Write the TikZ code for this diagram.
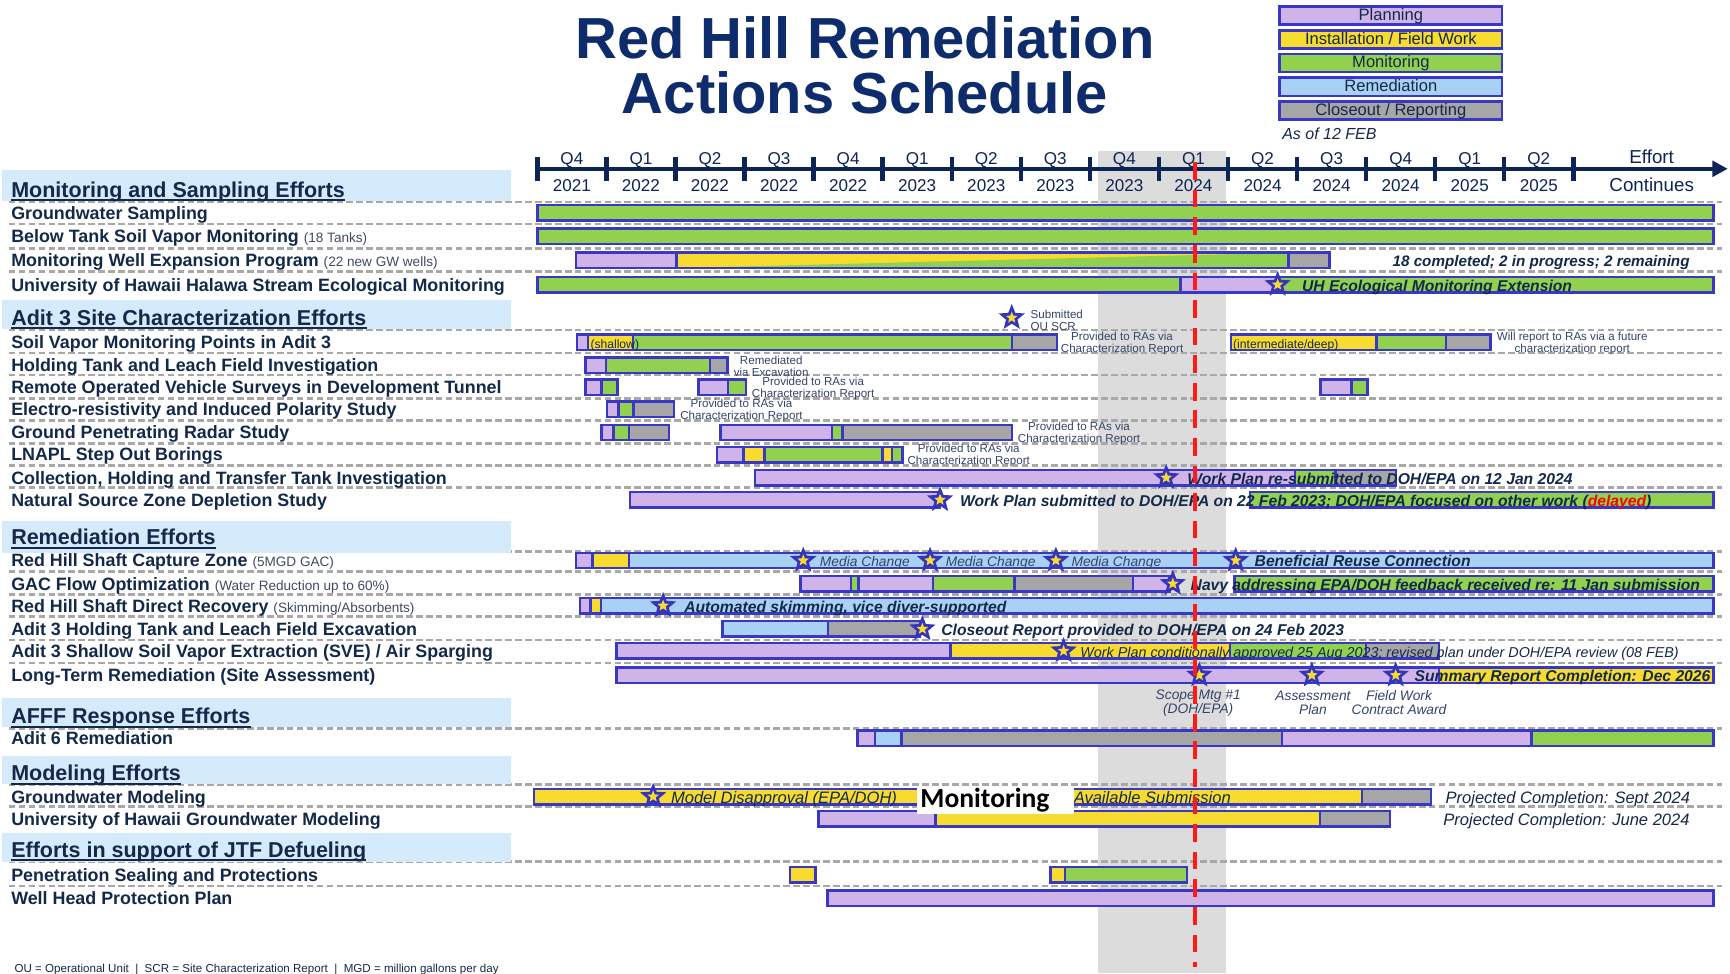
\documentclass[tikz,border=0pt]{standalone}
\usepackage{fontspec}
\setmainfont{Liberation Sans}
\newfontfamily\calib{Carlito}
\usetikzlibrary{shapes.geometric,arrows.meta}
\definecolor{navy}{HTML}{14294A}
\definecolor{titleblue}{HTML}{0E2C6C}
\definecolor{axisnavy}{HTML}{0D2456}
\definecolor{bord}{HTML}{3838C4}
\definecolor{cplan}{HTML}{CFB3E9}
\definecolor{cyel}{HTML}{F7DC2F}
\definecolor{cgrn}{HTML}{92D050}
\definecolor{cblu}{HTML}{A9D1F3}
\definecolor{cgry}{HTML}{A6A6A6}
\definecolor{cband}{HTML}{D5EAFB}
\definecolor{cshade}{HTML}{DCDCDC}
\definecolor{dashg}{HTML}{A8A8A8}
\definecolor{notec}{HTML}{34456A}
\definecolor{subc}{HTML}{3F4A63}
\definecolor{starb}{HTML}{3434BC}
\definecolor{redline}{HTML}{FF1A1A}
\newcommand{\fsz}[1]{\fontsize{#1}{#1}\selectfont}
\newcommand{\seg}[4]{\draw[barl,fill=#4] (#1,{#3-7}) rectangle (#2,{#3+7});}
\newcommand{\mstar}[3]{\node[ostar] (#1) at (#2,#3) {}; \node[istar] (#1i) at (#2,#3) {};}
\newcommand{\dline}[1]{\draw[dl] (8,#1) -- (1561,#1);}
\newcommand{\subl}[1]{{\mdseries\fontsize{12.3}{12.3}\selectfont\color{subc}#1}}
\tikzset{
 barl/.style={draw=bord, line width=2.2pt},
 dl/.style={draw=dashg, line width=2.4pt, dash pattern=on 6pt off 3pt},
 ostar/.style={star, star points=5, star point ratio=2.3, fill=starb, minimum size=25pt, inner sep=0pt},
 istar/.style={star, star points=5, star point ratio=2.3, fill=cyel, minimum size=11pt, inner sep=0pt},
 tx/.style={inner sep=0pt, text height=1.5ex, text depth=0.25ex, text=navy, yshift=-2.5pt},
 lab/.style={tx, anchor=west, font=\bfseries\fsz{16.2}},
 hdr/.style={tx, anchor=west, font=\bfseries\fsz{19.5}, yshift=-1pt},
 note/.style={inner sep=0pt, text=notec, font=\fontsize{10.5}{11}\selectfont, align=center, yshift=-2pt},
 inote/.style={inner sep=0pt, text=notec, font=\itshape\fontsize{12.5}{13}\selectfont, align=center, yshift=-1.5pt},
 msg/.style={tx, anchor=west, font=\bfseries\itshape\fsz{14.2}},
 imsg/.style={tx, anchor=west, font=\itshape\fsz{13}},
 pmsg/.style={tx, anchor=west, font=\itshape\fsz{15}},
 mc/.style={tx, anchor=west, text=notec, font=\itshape\fsz{12.5}},
 ax/.style={tx, font=\fsz{15.5}, text=axisnavy},
 axl/.style={draw=axisnavy, line width=4pt},
 legbox/.style={draw=bord, line width=2.4pt, inner sep=0pt, minimum width=201.6pt, minimum height=16.6pt, text height=1.7ex, text depth=0.1ex, text=navy, font=\fsz{15}},
 uline/.style={draw=navy, line width=1.8pt},
}
\begin{document}
\begin{tikzpicture}[x=1pt,y=-1pt]
\fill[white] (0,0) rectangle (1568,882);
\useasboundingbox (0,0) rectangle (1568,882);
% shaded current period
\fill[cshade] (995,137) rectangle (1111,882);
% dashed row separators
\foreach \yy in {183,203,225,246,299,320,340,361,381,402,422,442,500,518,539,559,580,601,660,711,731,781,803} {\dline{\yy}}
% section bands
\fill[cband] (2,154) rectangle (463,182);
\fill[cband] (2,272) rectangle (463,298);
\fill[cband] (2,472) rectangle (463,501);
\fill[cband] (2,633) rectangle (463,659);
\fill[cband] (2,685) rectangle (463,711);
\fill[cband] (2,755) rectangle (463,781);
% time axis
\draw[axl, -{Triangle[length=14pt,width=14pt]}] (486,153) -- (1566,153);
\foreach \k in {0,...,15} {\draw[axl] ({487+62.6*\k},142) -- ({487+62.6*\k},164);}
\foreach \q/\yr [count=\i from 0] in {Q4/2021,Q1/2022,Q2/2022,Q3/2022,Q4/2022,Q1/2023,Q2/2023,Q3/2023,Q4/2023,Q1/2024,Q2/2024,Q3/2024,Q4/2024,Q1/2025,Q2/2025} {
  \node[ax] (q\i) at ({518.3+62.6*\i},143) {\q};
  \node[ax] (y\i) at ({518.3+62.6*\i},168) {\yr};
}
\node[ax, font=\fsz{17}] (ef) at (1497,142) {Effort};
\node[ax, font=\fsz{17}] (co) at (1497,168) {Continues};
% title
\node[inner sep=0pt, anchor=base, text=titleblue, font=\bfseries\fsz{52.5}] (t1) at (784,53) {Red Hill Remediation};
\node[inner sep=0pt, anchor=base, text=titleblue, font=\bfseries\fsz{52.5}] (t2) at (784,103) {Actions Schedule};
% legend
\node[legbox, fill=cplan] (lg1) at (1260.6,14) {Planning};
\node[legbox, fill=cyel] (lg2) at (1260.6,35.8) {Installation / Field Work};
\node[legbox, fill=cgrn] (lg3) at (1260.6,57.1) {Monitoring};
\node[legbox, fill=cblu] (lg4) at (1260.6,78.8) {Remediation};
\node[legbox, fill=cgry] (lg5) at (1260.6,100.1) {Closeout / Reporting};
\node[tx, anchor=west, font=\itshape\fsz{14.5}] (asof) at (1162,121) {As of 12 FEB};
% section headers
\node[hdr] (h1) at (10,172) {Monitoring and Sampling Efforts};
\node[hdr] (h2) at (10,288) {Adit 3 Site Characterization Efforts};
\node[hdr] (h3) at (10,487) {Remediation Efforts};
\node[hdr] (h4) at (10,649) {AFFF Response Efforts};
\node[hdr] (h5) at (10,701) {Modeling Efforts};
\node[hdr] (h6) at (10,770) {Efforts in support of JTF Defueling};
\foreach \h in {h1,h2,h3,h4,h5,h6} {\draw[uline] ([yshift=-2.8pt]\h.base west) -- ([yshift=-2.8pt]\h.base east);}
% row labels
\node[lab] (l1) at (10,193) {Groundwater Sampling};
\node[lab] (l2) at (10,214) {Below Tank Soil Vapor Monitoring \subl{(18 Tanks)}};
\node[lab] (l3) at (10,236) {Monitoring Well Expansion Program \subl{(22 new GW wells)}};
\node[lab] (l4) at (10,258) {University of Hawaii Halawa Stream Ecological Monitoring};
\node[lab] (l5) at (10,310) {Soil Vapor Monitoring Points in Adit 3};
\node[lab] (l6) at (10,331) {Holding Tank and Leach Field Investigation};
\node[lab] (l7) at (10,351) {Remote Operated Vehicle Surveys in Development Tunnel};
\node[lab] (l8) at (10,371) {Electro-resistivity and Induced Polarity Study};
\node[lab] (l9) at (10,392) {Ground Penetrating Radar Study};
\node[lab] (l10) at (10,412) {LNAPL Step Out Borings};
\node[lab] (l11) at (10,433) {Collection, Holding and Transfer Tank Investigation};
\node[lab] (l12) at (10,453) {Natural Source Zone Depletion Study};
\node[lab] (l13) at (10,508) {Red Hill Shaft Capture Zone \subl{(5MGD GAC)}};
\node[lab] (l14) at (10,529) {GAC Flow Optimization \subl{(Water Reduction up to 60\%)}};
\node[lab] (l15) at (10,549) {Red Hill Shaft Direct Recovery \subl{(Skimming/Absorbents)}};
\node[lab] (l16) at (10,570) {Adit 3 Holding Tank and Leach Field Excavation};
\node[lab] (l17) at (10,590) {Adit 3 Shallow Soil Vapor Extraction (SVE) / Air Sparging};
\node[lab] (l18) at (10,612) {Long-Term Remediation (Site Assessment)};
\node[lab] (l19) at (10,669) {Adit 6 Remediation};
\node[lab] (l20) at (10,722) {Groundwater Modeling};
\node[lab] (l21) at (10,742) {University of Hawaii Groundwater Modeling};
\node[lab] (l22) at (10,793) {Penetration Sealing and Protections};
\node[lab] (l23) at (10,814) {Well Head Protection Plan};
% ---- bars ----
\seg{487}{1553}{193}{cgrn}
\seg{487}{1553}{214}{cgrn}
% MWEP
\seg{522}{613}{236}{cplan}
\fill[cyel] (613,229) rectangle (1168,243);
\fill[cgrn] (613,243) -- (1168,243) -- (1168,229) -- cycle;
\draw[barl] (613,229) rectangle (1168,243);
\seg{1168}{1205}{236}{cgry}
% UH Halawa
\seg{487}{1070}{258}{cgrn}
\seg{1070}{1158}{258}{cplan}
\seg{1158}{1553}{258}{cgrn}
% SVMP
\seg{523}{533}{310}{cplan}
\seg{533}{573.5}{310}{cyel}
\seg{573.5}{917}{310}{cgrn}
\seg{917}{958}{310}{cgry}
\seg{1115.5}{1247.5}{310}{cyel}
\seg{1247.5}{1310.5}{310}{cgrn}
\seg{1310.5}{1351}{310}{cgry}
% Holding tank
\seg{530.5}{549}{331}{cplan}
\seg{549}{643.5}{331}{cgrn}
\seg{643.5}{659.5}{331}{cgry}
% ROV
\seg{530.5}{545}{351}{cplan}
\seg{545}{559.5}{351}{cgrn}
\seg{633}{660}{351}{cplan}
\seg{660}{676}{351}{cgrn}
\seg{1197}{1225}{351}{cplan}
\seg{1225}{1239.5}{351}{cgrn}
% Electro
\seg{550}{560.5}{371}{cplan}
\seg{560.5}{574}{371}{cgrn}
\seg{574}{611}{371}{cgry}
% GPR
\seg{545}{556}{392}{cplan}
\seg{556}{570}{392}{cgrn}
\seg{570}{606.5}{392}{cgry}
\seg{653}{754}{392}{cplan}
\seg{754}{763.5}{392}{cgrn}
\seg{763.5}{917}{392}{cgry}
% LNAPL
\seg{650}{674}{412}{cplan}
\seg{674}{693}{412}{cyel}
\seg{693}{800}{412}{cgrn}
\seg{800}{808.5}{412}{cyel}
\seg{808.5}{818}{412}{cgrn}
% Collection
\seg{684.5}{1173.7}{433}{cplan}
\seg{1173.7}{1210.6}{433}{cgrn}
\seg{1210.6}{1265.3}{433}{cgry}
% NSZD
\seg{571}{852}{453}{cplan}
\seg{1133}{1553}{453}{cgrn}
% Capture zone
\seg{522}{537}{508}{cplan}
\seg{537}{570}{508}{cyel}
\seg{570}{1553}{508}{cblu}
% GAC
\seg{725.4}{771.2}{529}{cplan}
\seg{771.2}{778.2}{529}{cgrn}
\seg{778.2}{845.8}{529}{cplan}
\seg{845.8}{919.6}{529}{cgrn}
\seg{919.6}{1026.8}{529}{cgry}
\seg{1026.8}{1060}{529}{cplan}
\seg{1119}{1553}{529}{cgrn}
% Direct recovery
\seg{525.6}{535.3}{549}{cplan}
\seg{535.3}{544.7}{549}{cyel}
\seg{544.7}{1553}{549}{cblu}
% Holding excavation
\seg{655}{750.4}{570}{cblu}
\seg{750.4}{834}{570}{cgry}
% SVE
\seg{558.6}{861.4}{590}{cplan}
\seg{861.4}{1115}{590}{cyel}
\seg{1115}{1238}{590}{cgrn}
\seg{1238}{1304}{590}{cgry}
% Long-term
\seg{558.6}{1304}{612}{cplan}
\seg{1304}{1553}{612}{cyel}
% Adit 6
\seg{777}{793}{669}{cplan}
\seg{793}{817}{669}{cblu}
\seg{817}{1162}{669}{cgry}
\seg{1162}{1388}{669}{cplan}
\seg{1388}{1553}{669}{cgrn}
% GW modeling
\seg{484}{1234.5}{722}{cyel}
\seg{1234.5}{1297}{722}{cgry}
% UH GW modeling
\seg{742}{848}{742}{cplan}
\seg{848}{1196.5}{742}{cyel}
\seg{1196.5}{1260}{742}{cgry}
% Penetration
\seg{716}{739}{793}{cyel}
\seg{952}{965}{793}{cyel}
\seg{965}{1076}{793}{cgrn}
% Well head
\seg{750}{1553}{814}{cplan}
% ---- notes and messages ----
\node[imsg, font=\bfseries\itshape\fsz{13.8}] (m1) at (1262,236) {18 completed; 2 in progress; 2 remaining};
\node[msg] (m2) at (1180,258) {UH Ecological Monitoring Extension};
\node[tx, anchor=west, font=\fsz{11}] (m3) at (535,310) {(shallow)};
\node[tx, anchor=west, font=\fsz{11}] (m4) at (1117.5,310) {(intermediate/deep)};
\node[note, anchor=west, align=left] (n1) at (934,288) {Submitted\\OU SCR};
\node[note] (n2) at (1017,309) {Provided to RAs via\\Characterization Report};
\node[note] (n3) at (1425,309) {Will report to RAs via a future\\characterization report};
\node[note] (n4) at (699,330) {Remediated\\via Excavation};
\node[note] (n5) at (737,350) {Provided to RAs via\\Characterization Report};
\node[note] (n6) at (672,370) {Provided to RAs via\\Characterization Report};
\node[note] (n7) at (978,391) {Provided to RAs via\\Characterization Report};
\node[note] (n8) at (878,411) {Provided to RAs via\\Characterization Report};
\node[msg] (m5) at (1076,433) {Work Plan re-submitted to DOH/EPA on 12 Jan 2024};
\node[msg] (m6) at (870,453) {Work Plan submitted to DOH/EPA on 22 Feb 2023; DOH/EPA focused on other work (\textcolor{red}{delayed})};
\node[mc] (mc1) at (743,508) {Media Change};
\node[mc] (mc2) at (857,508) {Media Change};
\node[mc] (mc3) at (971,508) {Media Change};
\node[msg] (m7) at (1137,508) {Beneficial Reuse Connection};
\node[msg] (m8) at (1079,529) {Navy addressing EPA/DOH feedback received re: 11 Jan submission};
\node[msg] (m9) at (620,549) {Automated skimming, vice diver-supported};
\node[msg] (m10) at (853,570) {Closeout Report provided to DOH/EPA on 24 Feb 2023};
\node[imsg] (m11) at (979,590) {Work Plan conditionally approved 25 Aug 2023; revised plan under DOH/EPA review (08 FEB)};
\node[msg] (m12) at (1282,612) {Summary Report Completion: Dec 2026};
\node[inote] (n9) at (1086,635.5) {Scope Mtg \#1\\(DOH/EPA)};
\node[inote] (n10) at (1190,635.5) {Assessment\\Plan};
\node[inote] (n11) at (1268,635.5) {Field Work\\Contract Award};
\node[pmsg] (m13) at (608,722) {Model Disapproval (EPA/DOH)};
\node[pmsg] (m14) at (973,722) {Available Submission};
\node[pmsg] (m15) at (1310,722) {Projected Completion: Sept 2024};
\node[pmsg] (m16) at (1308,742) {Projected Completion: June 2024};
% stars
\mstar{s1}{917}{288}
\mstar{s2}{1158}{258}
\mstar{s3}{1057}{433}
\mstar{s4}{852}{453}
\mstar{s5}{728}{508}
\mstar{s6}{843}{508}
\mstar{s7}{957}{508}
\mstar{s8}{1120}{508}
\mstar{s9}{1063}{529}
\mstar{s10}{601}{549}
\mstar{s11}{836}{570}
\mstar{s12}{964}{590}
\mstar{s13}{1087}{612}
\mstar{s14}{1189}{612}
\mstar{s15}{1265}{612}
\mstar{s16}{592}{722}
% overlay box
\fill[white] (831,714) rectangle (973,738);
\node[inner sep=0pt, anchor=west, text=black, font=\calib\bfseries\fsz{25}] (mon) at (834,725) {Monitoring};
% footer
\node[tx, anchor=west, font=\fsz{10.5}] (foot) at (13,876) {OU = Operational Unit\ \ |\ \ SCR = Site Characterization Report\ \ |\ \ MGD = million gallons per day};
% status date line
\draw[redline, line width=3.5pt, dash pattern=on 16pt off 9pt] (1083,147) -- (1083,876);
\end{tikzpicture}
\end{document}
